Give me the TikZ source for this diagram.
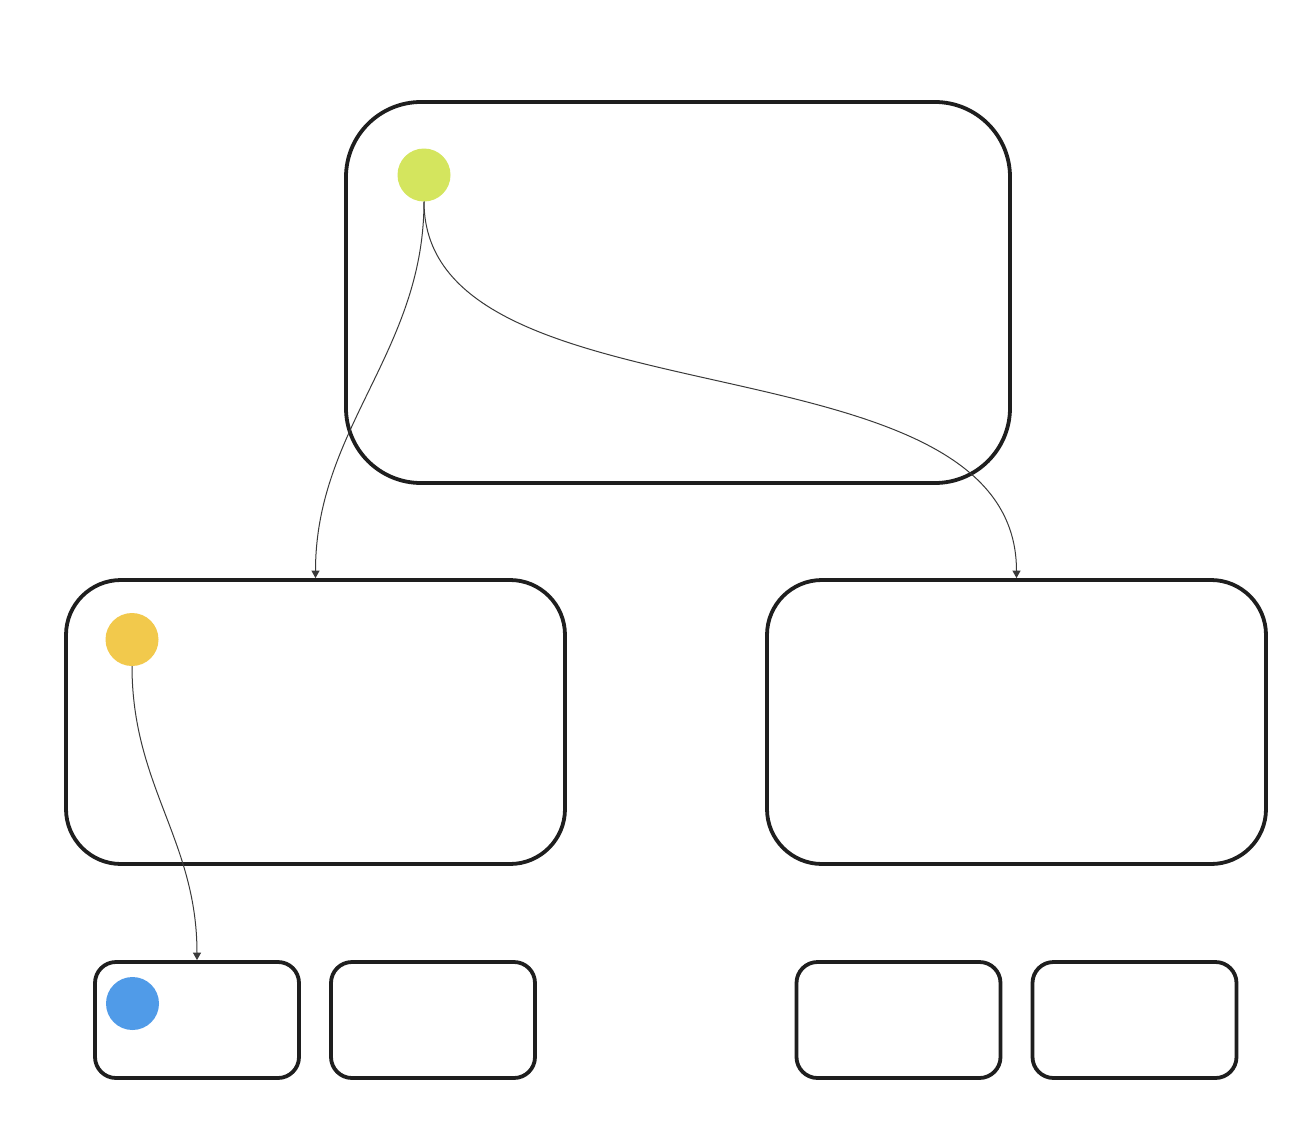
\documentclass[tikz,border=0pt]{standalone}
\usetikzlibrary{arrows.meta,calc}
\definecolor{boxline}{HTML}{1E1E1E}
\definecolor{linkline}{HTML}{3A3A3A}
\definecolor{dotgreen}{HTML}{D4E55E}
\definecolor{dotorange}{HTML}{F2C94C}
\definecolor{dotblue}{HTML}{509BE8}
\tikzset{
  box/.style={draw=boxline, line width=3.8pt, rectangle, outer sep=1.9pt, inner sep=0pt, fill=white},
  bigbox/.style={box, rounded corners=75pt, minimum width=664pt, minimum height=381pt},
  midbox/.style={box, rounded corners=55pt, minimum width=499pt, minimum height=284pt},
  smallbox/.style={box, rounded corners=21pt, minimum width=204pt, minimum height=116pt},
  dot/.style={circle, inner sep=0pt, outer sep=0pt, minimum size=53pt},
  link/.style={draw=linkline, line width=1pt, -{Triangle[length=7.5pt,width=8pt]}}
}
\begin{document}
\begin{tikzpicture}[x=1pt,y=-1pt]
\useasboundingbox[fill=white] (0,0) rectangle (1312,1146);
\node[bigbox] (top) at (678,292.5) {};
\node[midbox] (midL) at (315.5,722) {};
\node[midbox] (midR) at (1016.5,722) {};
\node[smallbox] (b1) at (197,1020) {};
\node[smallbox] (b2) at (433,1020) {};
\node[smallbox] (b3) at (898.5,1020) {};
\node[smallbox] (b4) at (1134.5,1020) {};
\node[dot, fill=dotgreen] (g) at (424,175) {};
\node[dot, fill=dotorange] (o) at (132,639.5) {};
\node[dot, fill=dotblue] (bl) at (132.5,1003.5) {};
\draw[link] (g.south) .. controls ($(g.south)+(0,150)$) and ($(midL.north)+(0,-150)$) .. (midL.north);
\draw[link] (g.south) .. controls ($(g.south)+(0,230)$) and ($(midR.north)+(0,-250)$) .. (midR.north);
\draw[link] (o.south) .. controls ($(o.south)+(0,120)$) and ($(b1.north)+(0,-120)$) .. (b1.north);
\end{tikzpicture}
\end{document}
